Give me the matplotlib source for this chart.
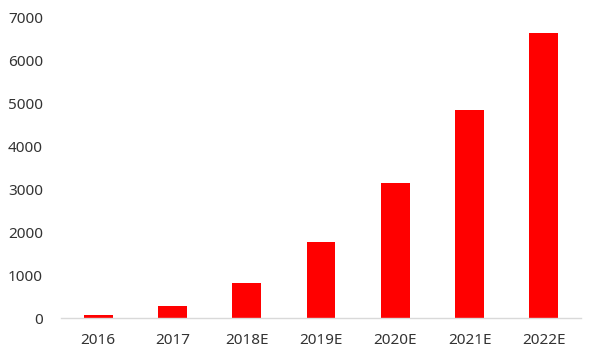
import matplotlib
matplotlib.use("Agg")
import matplotlib.pyplot as plt

# Values
years = ["2016", "2017", "2018E", "2019E", "2020E", "2021E", "2022E"]
values = [70, 280, 820, 1770, 3150, 4850, 6650]
yticks = [0, 1000, 2000, 3000, 4000, 5000, 6000, 7000]

plt.rcParams["font.family"] = ["Noto Sans", "DejaVu Sans"]

fig = plt.figure(figsize=(6.0, 3.59), dpi=100)
ax = fig.add_axes([0.1017, 0.1142, 0.8666, 0.8358])

x = list(range(len(years)))
ax.bar(x, values, width=0.39, color="#ff0000", zorder=2)

ax.set_xlim(-0.5, len(years) - 0.5)
ax.set_ylim(0, 7000)
ax.set_yticks(yticks)
ax.set_xticks(x)
ax.set_xticklabels(years)

for side in ("top", "right", "left"):
    ax.spines[side].set_visible(False)
ax.spines["bottom"].set_color("#d9d9d9")
ax.spines["bottom"].set_linewidth(1.0)

ax.tick_params(axis="both", length=0, labelsize=11, colors="#333333")
ax.tick_params(axis="x", pad=11)
ax.tick_params(axis="y", pad=13)

fig.savefig("out.png", dpi=100, facecolor="white")
